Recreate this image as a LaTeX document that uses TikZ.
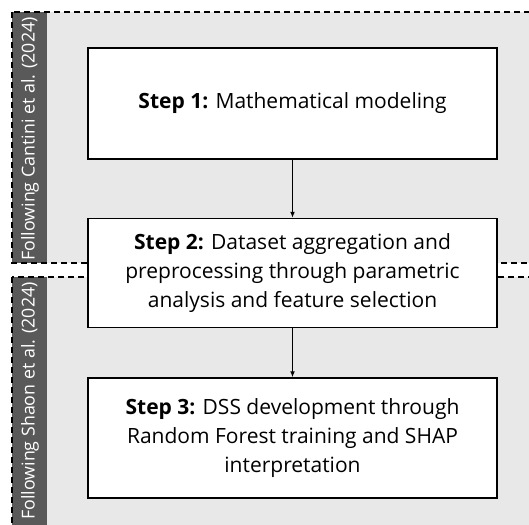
\documentclass[tikz,border=0pt]{standalone}
\usepackage{fontspec}
\setmainfont{Open Sans}
\usetikzlibrary{positioning,arrows.meta}
\definecolor{bandgrey}{HTML}{595959}
\definecolor{panelgrey}{HTML}{E8E8E8}
\tikzset{stepbox/.style={rectangle,draw,fill=white,line width=1.5pt,minimum width=409pt,align=center,inner sep=0pt,font=\fontsize{21}{29}\selectfont}}
\tikzset{panelline/.style={draw,line width=1.2pt,dash pattern=on 6pt off 4pt}}
\tikzset{bandlabel/.style={rotate=90,text=white,font=\fontsize{17.8}{20}\selectfont}}

\begin{document}
\begin{tikzpicture}
        \useasboundingbox (0,0) rectangle (529pt,-524pt);
        \clip (0,0) rectangle (529pt,-524pt);

        % panels
        \fill[panelgrey] (12pt,-12pt) rectangle (560pt,-263pt);
        \fill[bandgrey] (12pt,-12pt) rectangle (47pt,-263pt);
        \path[panelline] (12pt,-12pt) rectangle (560pt,-263pt);
        \fill[panelgrey] (12pt,-277pt) rectangle (560pt,-560pt);
        \fill[bandgrey] (12pt,-277pt) rectangle (47pt,-560pt);
        \path[panelline] (12pt,-277pt) rectangle (560pt,-560pt);

        \node[bandlabel] (cantini) at (30pt,-139pt) {Following Cantini et al. (2024)};
        \node[bandlabel] (shaon) at (30pt,-401pt) {Following Shaon et al. (2024)};

        % steps
        \node[stepbox,minimum height=111pt] (step1) at (292.5pt,-103.5pt) {\textbf{Step 1:} Mathematical modeling};
        \node[stepbox,minimum height=109pt,below=58pt of step1] (step2) {\textbf{Step 2:} Dataset aggregation and\\preprocessing through parametric\\analysis and feature selection};
        \node[stepbox,minimum height=120pt,below=49pt of step2] (step3) {\textbf{Step 3:} DSS development through\\Random Forest training and SHAP\\interpretation};

        \draw[-{Latex[length=6pt,width=5pt]},line width=1.4pt] (step1) to (step2);
        \draw[-{Latex[length=6pt,width=5pt]},line width=1.4pt] (step2) to (step3);
    \end{tikzpicture}
\end{document}
